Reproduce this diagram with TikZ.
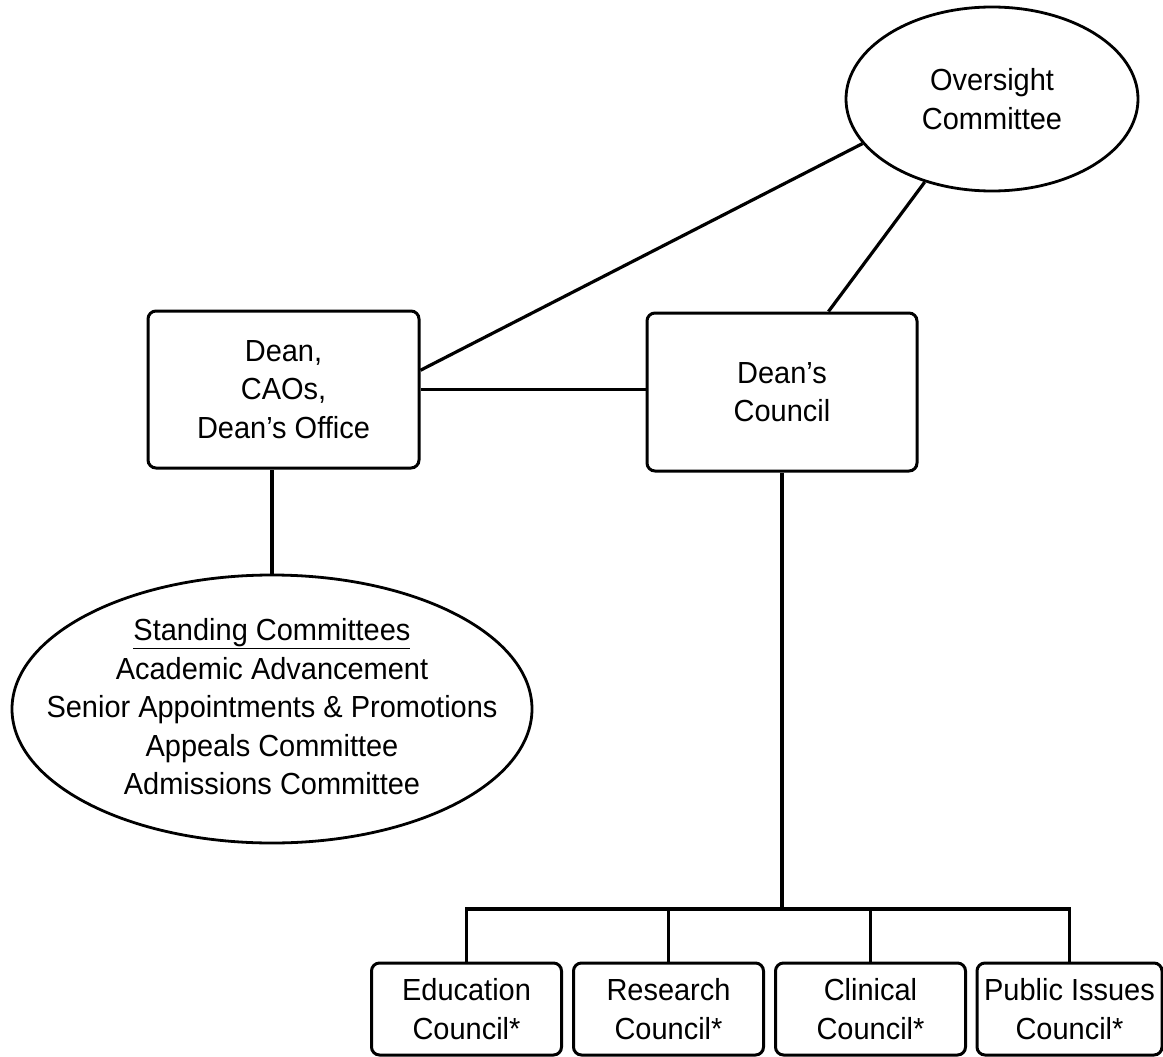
\documentclass[tikz,border=0pt]{standalone}
\usepackage{fontspec}
\setmainfont[FakeStretch=0.95]{Liberation Sans}
\usetikzlibrary{shapes.geometric,calc}
\begin{document}
\begin{tikzpicture}[x=1pt,y=-1pt,
  every node/.style={font=\fontsize{30.5}{38.5}\selectfont, align=center},
  bigbox/.style={draw, line width=3pt, rounded corners=8pt, inner sep=0pt},
  smallbox/.style={draw, line width=3pt, rounded corners=8pt, inner sep=0pt, minimum width=190, minimum height=92},
  oval/.style={draw, ellipse, line width=2.8pt, inner sep=0pt},
  conn/.style={line width=3.2pt}]
\useasboundingbox (0,0) rectangle (1163,1057);
\node[oval, minimum width=292, minimum height=184] (over) at (992,99) {Oversight\\Committee};
\node[bigbox, minimum width=271, minimum height=157] (dean) at (283.5,389.5) {Dean,\\CAOs,\\Dean’s Office};
\node[bigbox, minimum width=270, minimum height=158] (council) at (782,392) {Dean’s\\Council};
\node[oval, minimum width=520, minimum height=268] (std) at (272,709) {};
\node (stdtext) at (272,707) {\underline{Standing Committees}\\Academic Advancement\\Senior Appointments \& Promotions\\Appeals Committee\\Admissions Committee};
\node[smallbox] (edu) at (466.5,1009) {Education\\Council*};
\node[smallbox] (res) at (668.5,1009) {Research\\Council*};
\node[smallbox] (clin) at (870.5,1009) {Clinical\\Council*};
\node[smallbox, minimum width=185] (pub) at (1069.5,1009) {Public Issues\\Council*};
\coordinate (bus) at (0,909);
\draw[conn] (dean.8) -- (over.199);
\draw[conn] (council.60) -- (over.231);
\draw[conn] (dean.east) -- (dean.east -| council.west);
\draw[conn] (std.north) -- (std.north |- dean.south);
\draw[conn] (council.south) -- (council.south |- bus);
\draw[conn] (edu.north) -- (edu.north |- bus) -- (pub.north |- bus) -- (pub.north);
\draw[conn] (res.north) -- (res.north |- bus);
\draw[conn] (clin.north) -- (clin.north |- bus);
\end{tikzpicture}
\end{document}
